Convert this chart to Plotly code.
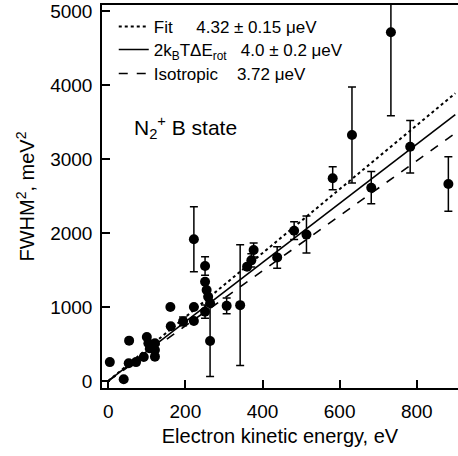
import numpy as np
import plotly.graph_objects as go

# Data
energy = [4, 40, 54, 53, 72, 92, 100, 104, 108, 121, 121, 121, 161, 162, 194, 222, 222, 222,
          251, 251, 255, 259, 264, 251, 264, 307, 342, 360, 371, 377, 438, 482, 514,
          582, 632, 682, 733, 783, 882]
fwhm2 = [255, 23, 545, 239, 255, 325, 595, 509, 441, 509, 419, 329, 1000, 740, 805, 1000, 810, 1915,
         1554, 1342, 1230, 1139, 1050, 937, 540, 1015, 1025, 1545, 1630, 1770, 1670, 2031, 1978,
         2740, 3324, 2612, 4712, 3166, 2662]
fwhm2_err = [0, 0, 0, 0, 0, 0, 0, 0, 0, 0, 0, 0, 0, 0, 60, 0, 0, 440,
             125, 0, 0, 0, 0, 90, 480, 105, 815, 0, 90, 95, 145, 120, 250,
             155, 650, 218, 1127, 355, 367]

line_names = ["Fit\u00a0\u00a0\u00a0\u00a0\u00a04.32 ± 0.15 μeV",
              "2k<sub>B</sub>TΔE<sub>rot</sub>\u00a0\u00a0\u00a04.0 ± 0.2 μeV",
              "Isotropic\u00a0\u00a0\u00a0\u00a03.72 μeV"]
line_slopes = [4.32, 4.0, 3.72]   # meV^2 per eV
line_dashes = ["dot", "solid", "dash"]
line_x = np.array([0, 900])

xticks = [0, 200, 400, 600, 800]
yticks = [0, 1000, 2000, 3000, 4000, 5000]

FONT = "Liberation Sans, Arial, sans-serif"
legend_ids = ["legend", "legend2", "legend3"]
legend_rows = [0.9426, 0.8825, 0.8198]

fig = go.Figure()
for name, s, d, lid in zip(line_names, line_slopes, line_dashes, legend_ids):
    fig.add_trace(go.Scatter(
        x=line_x, y=s * line_x, mode="lines", name=name, legend=lid,
        line=dict(color="black", width=2 if d == "dot" else 1.6, dash=d),
    ))

fig.add_trace(go.Scatter(
    x=energy, y=fwhm2, mode="markers", showlegend=False,
    marker=dict(color="black", size=10),
    error_y=dict(type="data", array=fwhm2_err, visible=True, color="black",
                 thickness=1.5, width=4),
))

fig.add_annotation(
    text="N<sub>2</sub><sup>+</sup> B state", xref="paper", yref="paper",
    x=0.085, y=0.68, xanchor="left", yanchor="middle", showarrow=False,
    font=dict(family=FONT, size=21, color="black"),
)

legend_common = dict(xanchor="left", yanchor="middle", bgcolor="rgba(0,0,0,0)",
                     font=dict(family=FONT, size=17, color="black"), itemwidth=30)

fig.update_layout(
    width=458, height=456,
    margin=dict(l=102, r=0, t=5, b=68, autoexpand=False),
    plot_bgcolor="white", paper_bgcolor="white",
    font=dict(family=FONT, color="black"),
    showlegend=True,
    legend=dict(x=0.033, y=legend_rows[0], **legend_common),
    legend2=dict(x=0.033, y=legend_rows[1], **legend_common),
    legend3=dict(x=0.033, y=legend_rows[2], **legend_common),
    xaxis=dict(
        range=[-16.3, 907], tickvals=xticks, ticks="inside", ticklen=8, tickwidth=1.5,
        tickcolor="black", showline=True, linecolor="black", linewidth=1.5, mirror=True,
        showgrid=False, zeroline=False, tickfont=dict(size=19), ticklabelstandoff=5,
        automargin=False,
        title=dict(text="Electron kinetic energy, eV", font=dict(size=20), standoff=8),
    ),
    yaxis=dict(
        range=[-95, 5081], tickvals=yticks, ticks="inside", ticklen=8, tickwidth=1.5,
        tickcolor="black", showline=True, linecolor="black", linewidth=1.5,
        showgrid=False, zeroline=False, tickfont=dict(size=19), ticklabelstandoff=4,
        automargin=False,
        title=dict(text="FWHM<sup>2</sup>, meV<sup>2</sup>", font=dict(size=20), standoff=10),
    ),
)

fig.write_html(
    "out.html",
    config={"displayModeBar": False},
    post_script="document.body.style.margin='0';document.body.style.padding='0';",
)
